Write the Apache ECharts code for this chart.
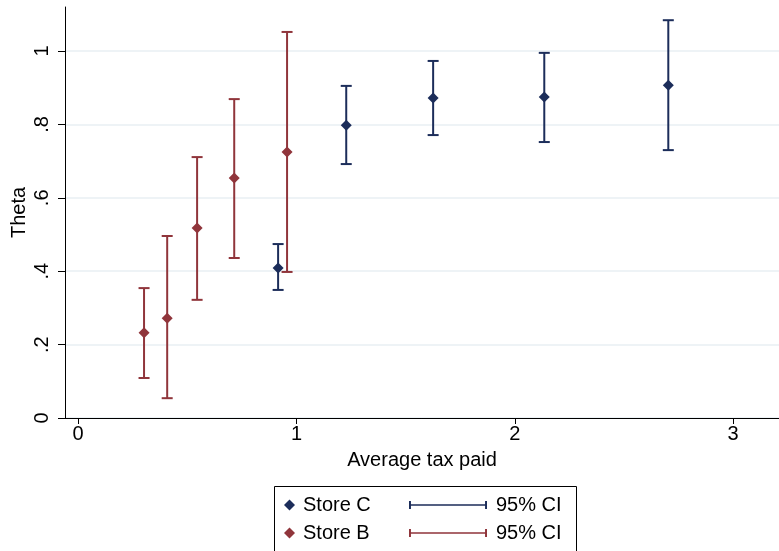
<!DOCTYPE html>
<html>
<head>
<meta charset="utf-8">
<script src="https://cdn.jsdelivr.net/npm/echarts@6/dist/echarts.min.js"></script>
<style>
    html, body { margin: 0; padding: 0; background: #fff; }
    #chart { width: 779px; height: 551px; }
</style>
</head>
<body>
<div id="chart"></div>
<script>
// data
var storeC_x = [0.916, 1.228, 1.626, 2.135, 2.703];
var storeC_theta = [0.409, 0.798, 0.872, 0.875, 0.907];
var storeC_lo = [0.349, 0.692, 0.771, 0.752, 0.730];
var storeC_hi = [0.474, 0.905, 0.973, 0.995, 1.084];

var storeB_x = [0.302, 0.408, 0.545, 0.715, 0.957];
var storeB_theta = [0.232, 0.272, 0.518, 0.654, 0.725];
var storeB_lo = [0.109, 0.054, 0.322, 0.436, 0.398];
var storeB_hi = [0.354, 0.496, 0.711, 0.869, 1.052];

var xTicks = [0, 1, 2, 3];
var yTicks = [0, 0.2, 0.4, 0.6, 0.8, 1];

var navy = "#1c2d5a";
var maroon = "#90353b";
var font = "'Liberation Sans', Arial, sans-serif";

function zip(a, b, c) {
    return a.map(function (v, i) {
        return c ? [v, b[i], c[i]] : [v, b[i]];
    });
}

// whisker with caps, drawn through the axes
function renderCI(params, api) {
    var x = api.value(0);
    var top = api.coord([x, api.value(2)]);
    var bot = api.coord([x, api.value(1)]);
    var w = 5.5;
    var st = { stroke: api.visual("color"), lineWidth: 2 };
    return {
        type: "group",
        children: [
            { type: "line", shape: { x1: top[0], y1: top[1], x2: bot[0], y2: bot[1] }, style: st },
            { type: "line", shape: { x1: top[0] - w, y1: top[1], x2: top[0] + w, y2: top[1] }, style: st },
            { type: "line", shape: { x1: bot[0] - w, y1: bot[1], x2: bot[0] + w, y2: bot[1] }, style: st }
        ]
    };
}

function yLabel(v) {
    if (v === 0) return "0";
    return String(+v.toFixed(1)).replace(/^0\./, ".");
}

var ciIcon = "path://M0,0h2.5v10h-2.5z M2.5,4h95v2h-95z M97.5,0h2.5v10h-2.5z";

var chart = echarts.init(document.getElementById("chart"));
chart.setOption({
    animation: false,
    textStyle: { fontFamily: font },
    grid: { left: 65, right: 0, top: 7, bottom: 133, containLabel: false, outerBoundsMode: "none" },
    xAxis: {
        type: "value",
        min: -0.06,
        max: 3.21,
        name: "Average tax paid",
        nameLocation: "middle",
        nameGap: 32,
        nameTextStyle: { fontSize: 20, color: "#000", fontFamily: font },
        axisLine: { show: true, onZero: false, lineStyle: { color: "#000", width: 1 } },
        axisTick: { show: true, customValues: xTicks, length: 6, lineStyle: { color: "#000" } },
        axisLabel: { customValues: xTicks, fontSize: 20, color: "#000", margin: 6, fontFamily: font },
        splitLine: { show: false }
    },
    yAxis: {
        type: "value",
        min: 0,
        max: 1.12,
        interval: 0.2,
        name: "Theta",
        nameLocation: "middle",
        nameGap: 36,
        nameMoveOverlap: false,
        nameRotate: 90,
        nameTextStyle: { fontSize: 20, color: "#000", fontFamily: font },
        axisLine: { show: true, onZero: false, lineStyle: { color: "#000", width: 1 } },
        axisTick: { show: true, customValues: yTicks, length: 7, lineStyle: { color: "#000" } },
        axisLabel: {
            customValues: yTicks, rotate: 90, fontSize: 20, color: "#000", margin: 13,
            fontFamily: font, formatter: yLabel
        },
        splitLine: { show: true, lineStyle: { color: "#e8eff3", width: 1.5 } }
    },
    legend: [{
        orient: "vertical",
        left: 279,
        top: 490,
        data: ["Store C", "Store B"],
        icon: "diamond",
        itemWidth: 11,
        itemHeight: 11,
        itemGap: 8,
        selectedMode: false,
        textStyle: { fontSize: 20, color: "#000", fontFamily: font, padding: [0, 0, 0, 3] }
    }, {
        orient: "vertical",
        left: 404,
        top: 490,
        data: ["CI_C", "CI_B"],
        icon: ciIcon,
        itemWidth: 78,
        itemHeight: 10,
        itemGap: 8,
        selectedMode: false,
        formatter: function () { return "95% CI"; },
        textStyle: { fontSize: 20, color: "#000", fontFamily: font, padding: [0, 0, 0, 4] }
    }],
    graphic: [{
        type: "rect",
        left: 272,
        top: 484,
        shape: { width: 302, height: 80 },
        style: { fill: "none", stroke: "#000", lineWidth: 1 },
        silent: true
    }],
    series: [{
        name: "CI_C",
        type: "custom",
        renderItem: renderCI,
        itemStyle: { color: navy },
        encode: { x: 0, y: [1, 2] },
        data: zip(storeC_x, storeC_lo, storeC_hi),
        z: 2
    }, {
        name: "CI_B",
        type: "custom",
        renderItem: renderCI,
        itemStyle: { color: maroon },
        encode: { x: 0, y: [1, 2] },
        data: zip(storeB_x, storeB_lo, storeB_hi),
        z: 2
    }, {
        name: "Store C",
        type: "scatter",
        symbol: "diamond",
        symbolSize: 11,
        itemStyle: { color: navy, opacity: 1 },
        data: zip(storeC_x, storeC_theta),
        z: 3
    }, {
        name: "Store B",
        type: "scatter",
        symbol: "diamond",
        symbolSize: 11,
        itemStyle: { color: maroon, opacity: 1 },
        data: zip(storeB_x, storeB_theta),
        z: 3
    }]
});
</script>
</body>
</html>
